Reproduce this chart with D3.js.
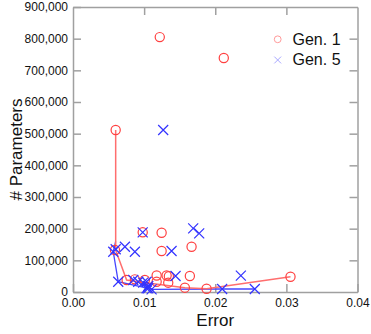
<!DOCTYPE html>
<html lang="en">
  <head>
    <meta charset="utf-8">
    <title>Error vs parameters</title>
    <style>
      body { margin: 0; background: white; }
      svg { display: block; font-family: "Liberation Sans", Arial, sans-serif; }
      .axis path, .axis line { stroke: #a0a0a0; stroke-width: 1.5; }
      .axis text { font-size: 12px; fill: #111; }
    </style>
    <script src="https://d3js.org/d3.v7.min.js"></script>
  </head>
  <body>
    <script>
    // Gen. 1 (red circles): [error, parameters]
    const gen1 = [
      [0.0122, 805000], [0.0212, 739000], [0.0060, 511500], [0.0059, 132600],
      [0.0098, 188500], [0.01246, 187000], [0.01246, 129500], [0.01667, 143000],
      [0.00754, 38000], [0.0087, 40000], [0.0101, 38000], [0.01176, 52000],
      [0.01316, 52000], [0.01348, 50000], [0.01643, 50500], [0.01176, 32500],
      [0.01339, 29400], [0.01573, 13600], [0.01878, 10400], [0.03058, 48300]
    ];
    // Gen. 5 (blue crosses)
    const gen5 = [
      [0.01268, 511500], [0.0098, 188500], [0.0169, 201000], [0.01774, 185000],
      [0.00566, 127000], [0.0060, 135000], [0.0073, 143000], [0.0087, 127000],
      [0.01386, 129500], [0.01442, 50500], [0.0236, 51500], [0.00636, 32500],
      [0.00847, 38000], [0.00917, 32500], [0.00987, 29400], [0.01035, 32500],
      [0.01058, 11700], [0.01105, 8500], [0.01035, 11700], [0.01058, 19000],
      [0.02097, 9500], [0.02556, 9500]
    ];
    // front lines
    const front1 = [[0.0060, 511500], [0.0060, 132000], [0.00754, 38000], [0.0089, 33000],
      [0.0108, 28000], [0.01573, 13600], [0.01878, 10400], [0.03058, 48300]];
    const front5 = [[0.0060, 160000], [0.00566, 127000], [0.00636, 32500], [0.01058, 11700],
      [0.01105, 8500], [0.02097, 9500], [0.02556, 9500]];

    const xTicks = [0, 0.01, 0.02, 0.03, 0.04];
    const yTicks = [0, 100000, 200000, 300000, 400000, 500000, 600000, 700000, 800000, 900000];
    const legendLabels = ["Gen. 1", "Gen. 5"];

    const W = 371, H = 334;
    const mLeft = 73, mRight = 357.5, mTop = 7, mBottom = 292;

    const svg = d3.select("body").append("svg")
      .attr("width", W).attr("height", H);

    const x = d3.scaleLinear().domain([0, 0.04]).range([mLeft, mRight]);
    const y = d3.scaleLinear().domain([0, 900000]).range([mBottom, mTop]);

    svg.append("g").attr("class", "axis")
      .attr("transform", `translate(0,${mBottom})`)
      .call(d3.axisBottom(x).tickValues(xTicks).tickFormat(d3.format(".2f"))
        .tickSizeInner(-8).tickSizeOuter(0).tickPadding(6));
    svg.append("g").attr("class", "axis")
      .attr("transform", `translate(${mLeft},0)`)
      .call(d3.axisLeft(y).tickValues(yTicks).tickFormat(d3.format(","))
        .tickSizeInner(-8).tickSizeOuter(0).tickPadding(5));
    svg.append("g").attr("class", "axis")
      .attr("transform", `translate(0,${mTop})`)
      .call(d3.axisTop(x).tickValues(xTicks.slice(1, -1)).tickFormat("")
        .tickSizeInner(-8).tickSizeOuter(0));
    svg.append("g").attr("class", "axis")
      .attr("transform", `translate(${mRight},0)`)
      .call(d3.axisRight(y).tickValues(yTicks.slice(1, -1)).tickFormat("")
        .tickSizeInner(-8).tickSizeOuter(0));

    const line = d3.line().x(d => x(d[0])).y(d => y(d[1]));

    svg.append("path").datum(front5)
      .attr("d", line).attr("fill", "none")
      .attr("stroke", "#4646ff").attr("stroke-width", 1.3);
    svg.append("path").datum(front1)
      .attr("d", line).attr("fill", "none")
      .attr("stroke", "#ff6e6e").attr("stroke-width", 1.5);

    svg.append("g").selectAll("circle")
      .data(gen1)
      .join("circle")
      .attr("cx", d => x(d[0]))
      .attr("cy", d => y(d[1]))
      .attr("r", 4.6)
      .attr("fill", "none")
      .attr("stroke", "#ff4040")
      .attr("stroke-width", 1.2);

    const s = 5;
    svg.append("g").selectAll("path")
      .data(gen5)
      .join("path")
      .attr("d", d => {
        const cx = x(d[0]), cy = y(d[1]);
        return `M${cx - s},${cy - s}L${cx + s},${cy + s}M${cx - s},${cy + s}L${cx + s},${cy - s}`;
      })
      .attr("stroke", "#3333ff")
      .attr("stroke-width", 1.2);

    // legend
    const lg = svg.append("g");
    lg.append("circle").attr("cx", 277.7).attr("cy", 39.3).attr("r", 3.4)
      .attr("fill", "none").attr("stroke", "#ff9a9a").attr("stroke-width", 1);
    lg.append("path")
      .attr("d", "M274.3,56.6L281.1,63.4M274.3,63.4L281.1,56.6")
      .attr("stroke", "#a8a8ff").attr("stroke-width", 1);
    lg.selectAll("text").data(legendLabels).join("text")
      .attr("x", 292.5)
      .attr("y", (d, i) => 44.8 + i * 19.7)
      .attr("font-size", "16px")
      .attr("fill", "#111")
      .text(d => d);

    svg.append("text")
      .attr("x", (mLeft + mRight) / 2)
      .attr("y", 325.5)
      .attr("text-anchor", "middle")
      .attr("font-size", "17px")
      .attr("fill", "#111")
      .text("Error");

    svg.append("text")
      .attr("transform", `translate(22,${(mTop + mBottom) / 2}) rotate(-90)`)
      .attr("text-anchor", "middle")
      .attr("font-size", "17px")
      .attr("fill", "#111")
      .text("# Parameters");
    </script>
  </body>
</html>
